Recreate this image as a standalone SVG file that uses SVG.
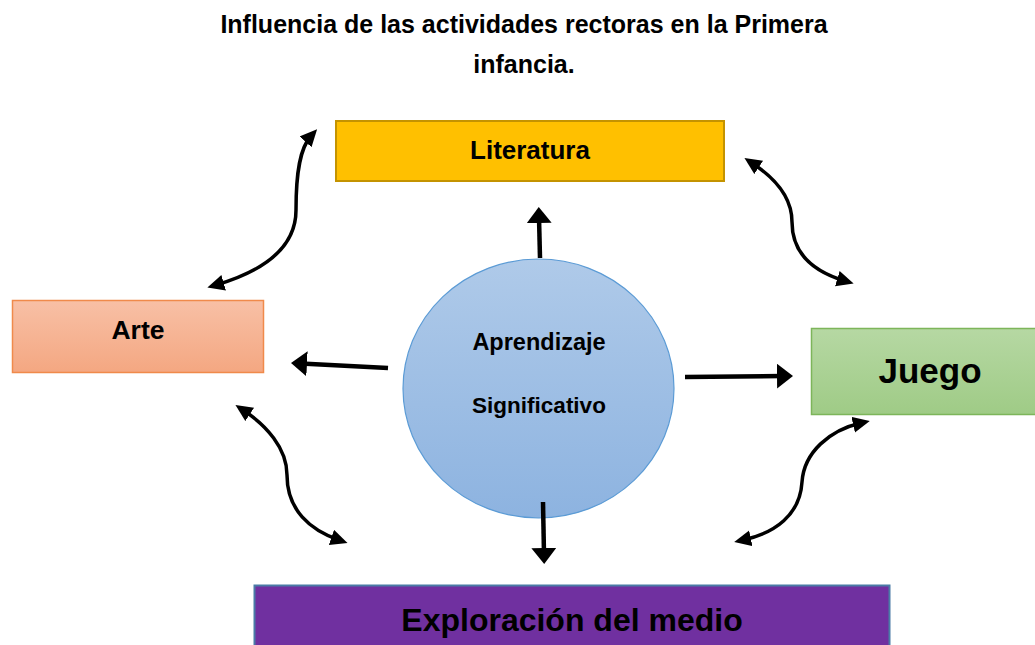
<svg xmlns="http://www.w3.org/2000/svg" width="1035" height="645" viewBox="0 0 1035 645">
<defs>
<style>
text{font-family:"Liberation Sans",Arial,sans-serif;font-weight:bold;fill:#000;text-anchor:middle}
.c{fill:none;stroke:#000;stroke-width:3.5;stroke-linecap:round}
.s{fill:none;stroke:#000;stroke-width:4.5}
</style>
<linearGradient id="gArte" x1="0" y1="0" x2="0" y2="1"><stop offset="0" stop-color="#F8C0A6"/><stop offset="1" stop-color="#F4A781"/></linearGradient>
<linearGradient id="gJuego" x1="0" y1="0" x2="0" y2="1"><stop offset="0" stop-color="#B6D8A3"/><stop offset="1" stop-color="#9FCB86"/></linearGradient>
<linearGradient id="gCirc" x1="0" y1="0" x2="0" y2="1"><stop offset="0" stop-color="#AFCAE9"/><stop offset="1" stop-color="#8DB3E0"/></linearGradient>
<marker id="hc" markerUnits="userSpaceOnUse" markerWidth="20" markerHeight="18" refX="8" refY="8" orient="auto-start-reverse"><path d="M0,0 L17,8 L0,16 z" fill="#000"/></marker>
<marker id="hs" markerUnits="userSpaceOnUse" markerWidth="20" markerHeight="28" refX="6" refY="12.5" orient="auto"><path d="M0,0 L16,12.5 L0,25 z" fill="#000"/></marker>
</defs>
<rect width="1035" height="645" fill="#fff"/>
<g id="title">
<text x="524" y="33" font-size="25">Influencia de las actividades rectoras en la Primera</text>
<text x="524" y="73" font-size="25">infancia.</text>
</g>
<g id="literatura">
<rect x="336" y="121" width="388" height="60" fill="#FFC000" stroke="#C49300" stroke-width="2"/>
<text x="530" y="159" font-size="26">Literatura</text>
</g>
<g id="arte">
<rect x="12.5" y="300.5" width="251" height="72" fill="url(#gArte)" stroke="#F08A4B" stroke-width="1.5"/>
<text x="138" y="339" font-size="26.5">Arte</text>
</g>
<g id="juego">
<rect x="811.5" y="328.5" width="230" height="86" fill="url(#gJuego)" stroke="#7DB55A" stroke-width="1.5"/>
<text x="930" y="383" font-size="35">Juego</text>
</g>
<g id="exploracion">
<rect x="254.5" y="585.5" width="635" height="70" fill="#7030A0" stroke="#4A7BA6" stroke-width="2"/>
<text x="572" y="631" font-size="32">Exploración del medio</text>
</g>
<g id="aprendizaje">
<ellipse cx="538.5" cy="388.5" rx="135.5" ry="129.5" fill="url(#gCirc)" stroke="#5B9BD5" stroke-width="1.2"/>
<text x="539" y="350" font-size="23.5">Aprendizaje</text>
<text x="539" y="413" font-size="22.5">Significativo</text>
</g>
<g id="connectors">
<path class="s" marker-end="url(#hs)" d="M540,258 L539,217"/>
<path class="s" marker-end="url(#hs)" d="M388,368 L301,363.5"/>
<path class="s" marker-end="url(#hs)" d="M685,377 L783,376"/>
<path class="s" marker-end="url(#hs)" d="M543,502 L544,554"/>
<path class="c" marker-start="url(#hc)" marker-end="url(#hc)" d="M216,285 C260,272 296,250 296,210 C296,172 300,148 311,136"/>
<path class="c" marker-start="url(#hc)" marker-end="url(#hc)" d="M752,163 C775,178 792,198 792,222 C792,255 815,272 845,281"/>
<path class="c" marker-start="url(#hc)" marker-end="url(#hc)" d="M243,410 C266,425 287,448 287,475 C287,510 310,530 339,540"/>
<path class="c" marker-start="url(#hc)" marker-end="url(#hc)" d="M743,540 C775,533 800,515 802,482 C804,452 830,430 861,423"/>
</g>
</svg>
